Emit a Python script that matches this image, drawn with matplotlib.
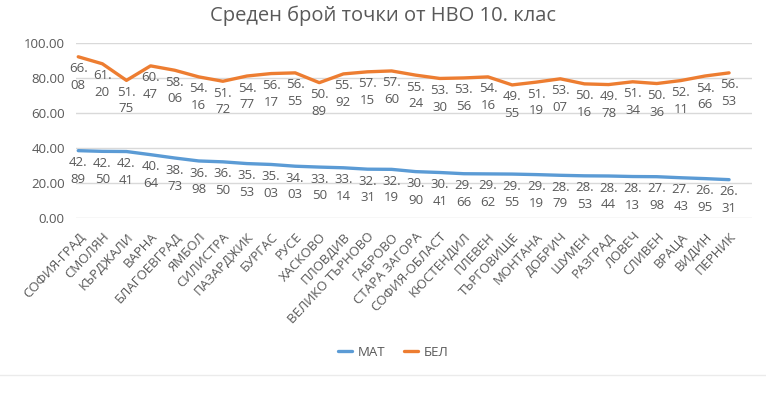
import matplotlib
matplotlib.use('Agg')
import matplotlib.pyplot as plt
from matplotlib.lines import Line2D

plt.rcParams['font.family'] = ['Open Sans', 'DejaVu Sans']

regions = ['СОФИЯ-ГРАД', 'СМОЛЯН', 'КЪРДЖАЛИ', 'ВАРНА', 'БЛАГОЕВГРАД', 'ЯМБОЛ',
           'СИЛИСТРА', 'ПАЗАРДЖИК', 'БУРГАС', 'РУСЕ', 'ХАСКОВО', 'ПЛОВДИВ',
           'ВЕЛИКО ТЪРНОВО', 'ГАБРОВО', 'СТАРА ЗАГОРА', 'СОФИЯ-ОБЛАСТ', 'КЮСТЕНДИЛ',
           'ПЛЕВЕН', 'ТЪРГОВИЩЕ', 'МОНТАНА', 'ДОБРИЧ', 'ШУМЕН', 'РАЗГРАД', 'ЛОВЕЧ',
           'СЛИВЕН', 'ВРАЦА', 'ВИДИН', 'ПЕРНИК']

# line heights as drawn in the picture
mat_line = [38.3, 37.9, 37.8, 36.0, 34.1, 32.4, 31.9, 30.9, 30.4, 29.4, 28.9, 28.5,
            27.7, 27.6, 26.3, 25.8, 25.1, 25.0, 24.9, 24.6, 24.2, 23.9, 23.8, 23.5,
            23.4, 22.8, 22.3, 21.7]
bel_line = [92.0, 88.0, 78.5, 86.8, 84.3, 80.5, 78.0, 81.0, 82.4, 82.8, 77.2, 82.2,
            83.4, 83.9, 81.5, 79.6, 79.9, 80.5, 75.9, 77.5, 79.4, 76.5, 76.1, 77.7,
            76.7, 78.4, 81.0, 82.8]

# data labels as printed
mat_labels = [42.89, 42.50, 42.41, 40.64, 38.73, 36.98, 36.50, 35.53, 35.03, 34.03,
              33.50, 33.14, 32.31, 32.19, 30.90, 30.41, 29.66, 29.62, 29.55, 29.19,
              28.79, 28.53, 28.44, 28.13, 27.98, 27.43, 26.95, 26.31]
bel_labels = [66.08, 61.20, 51.75, 60.47, 58.06, 54.16, 51.72, 54.77, 56.17, 56.55,
              50.89, 55.92, 57.15, 57.60, 55.24, 53.30, 53.56, 54.16, 49.55, 51.19,
              53.07, 50.16, 49.78, 51.34, 50.36, 52.11, 54.66, 56.53]

blue = '#5B9BD5'
orange = '#ED7D31'
grey = '#595959'

fig = plt.figure(figsize=(7.66, 4.0), dpi=100)
ax = fig.add_axes([0.099, 0.456, 0.883, 0.437])

x = list(range(len(regions)))
ax.plot(x, mat_line, color=blue, lw=2.4, solid_capstyle='round', label='МАТ', zorder=3)
ax.plot(x, bel_line, color=orange, lw=2.4, solid_capstyle='round', label='БЕЛ', zorder=3)

for xi, yv, lab in zip(x, mat_line, mat_labels):
    s = f'{lab:.2f}'.split('.')
    ax.annotate(s[0] + '.\n' + s[1], (xi, yv), xytext=(0, -4), textcoords='offset points',
                ha='center', va='top', fontsize=9.5, color=grey, linespacing=1.35)
for xi, yv, lab in zip(x, bel_line, bel_labels):
    s = f'{lab:.2f}'.split('.')
    ax.annotate(s[0] + '.\n' + s[1], (xi, yv), xytext=(0, -4), textcoords='offset points',
                ha='center', va='top', fontsize=9.5, color=grey, linespacing=1.35)

ax.set_ylim(0, 100)
ax.set_xlim(-0.1, 27.96)
ax.set_yticks([0, 20, 40, 60, 80, 100])
ax.set_yticklabels([f'{v:.2f}' for v in [0, 20, 40, 60, 80, 100]])
ax.set_xticks(x)
ax.set_xticklabels(regions, rotation=47, ha='right', rotation_mode='anchor', fontsize=9.5, color=grey)
ax.tick_params(axis='y', length=0, pad=8, labelsize=9.5, labelcolor=grey)
ax.tick_params(axis='x', length=0, pad=9)
ax.grid(axis='y', color='#D9D9D9', lw=1)
ax.set_axisbelow(True)
for sp in ax.spines.values():
    sp.set_visible(False)

fig.suptitle('Среден брой точки от НВО 10. клас', y=0.985, fontsize=14.5, color=grey)

fig.legend(loc='center', bbox_to_anchor=(0.513, 0.12), ncol=2, frameon=False,
           fontsize=9.5, handlelength=1.1, handletextpad=0.4, columnspacing=1.4,
           labelcolor=grey)
fig.add_artist(Line2D([0, 1], [0.0625, 0.0625], color='#EBEBEB', lw=1))

fig.savefig('out.png', dpi=100)
